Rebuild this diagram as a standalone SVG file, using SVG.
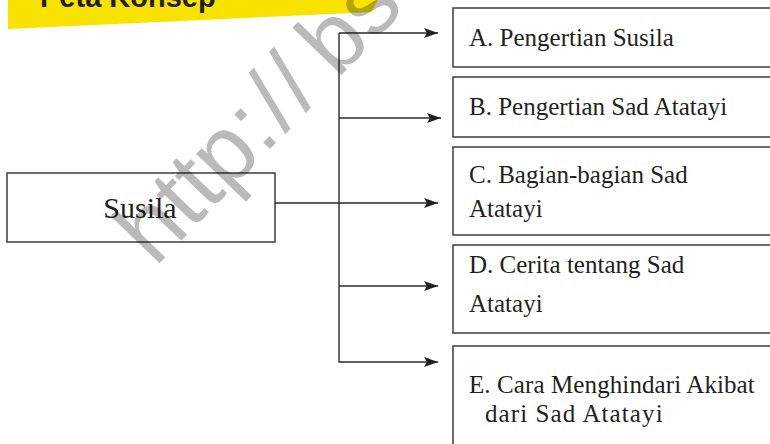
<svg xmlns="http://www.w3.org/2000/svg" width="770" height="444" viewBox="0 0 770 444">
  <defs>
    <style>
      .box { fill: #ffffff; stroke: #3c3c3c; stroke-width: 1.5; }
      .lbl { font-family: "Liberation Serif", "Times New Roman", serif; font-size: 25px; fill: #231f20; }
      .main { font-family: "Liberation Serif", "Times New Roman", serif; font-size: 30px; fill: #231f20; }
      .conn { fill: none; stroke: #2a2a2a; stroke-width: 1.4; }
      .title { font-family: "Liberation Sans", Arial, sans-serif; font-size: 29px; font-weight: bold; fill: #231f20; }
      .wm { font-family: "Liberation Sans", Arial, sans-serif; font-size: 94px; fill: #000000; fill-opacity: 0.27; }
    </style>
    <marker id="arrow" markerWidth="14" markerHeight="10" refX="14" refY="5" orient="auto" markerUnits="userSpaceOnUse">
      <path d="M0,0 L14,5 L0,10 L3,5 Z" fill="#231f20"/>
    </marker>
  </defs>

  <g id="banner">
    <polygon points="8,0 378,0 371,12 8,29" fill="#f7e200"/>
    <text class="title" x="40" y="7">Peta Konsep</text>
  </g>

  <g id="node-susila">
    <rect class="box" x="7" y="173" width="268" height="69"/>
    <text class="main" x="140" y="218" text-anchor="middle">Susila</text>
  </g>

  <g id="node-a">
    <rect class="box" x="453" y="8" width="330" height="59"/>
    <text class="lbl" x="469" y="46">A. Pengertian Susila</text>
  </g>

  <g id="node-b">
    <rect class="box" x="453" y="77" width="330" height="60"/>
    <text class="lbl" x="469" y="115">B. Pengertian Sad Atatayi</text>
  </g>

  <g id="node-c">
    <rect class="box" x="453" y="147" width="330" height="88"/>
    <text class="lbl" x="469" y="183">C. Bagian-bagian Sad</text>
    <text class="lbl" x="469" y="217">Atatayi</text>
  </g>

  <g id="node-d">
    <rect class="box" x="453" y="245" width="330" height="88"/>
    <text class="lbl" x="469" y="273">D. Cerita tentang Sad</text>
    <text class="lbl" x="469" y="312">Atatayi</text>
  </g>

  <g id="node-e">
    <rect class="box" x="453" y="346" width="330" height="110"/>
    <text class="lbl" x="469" y="393" letter-spacing="0.1">E. Cara Menghindari Akibat</text>
    <text class="lbl" x="485" y="422" letter-spacing="1.1">dari Sad Atatayi</text>
  </g>

  <g id="connectors">
    <line class="conn" x1="275" y1="203" x2="438" y2="203" marker-end="url(#arrow)"/>
    <line class="conn" x1="339" y1="33" x2="339" y2="362"/>
    <line class="conn" x1="339" y1="33" x2="438" y2="33" marker-end="url(#arrow)"/>
    <line class="conn" x1="339" y1="118" x2="441" y2="118" marker-end="url(#arrow)"/>
    <line class="conn" x1="339" y1="286" x2="438" y2="286" marker-end="url(#arrow)"/>
    <line class="conn" x1="339" y1="362" x2="438" y2="362" marker-end="url(#arrow)"/>
  </g>

  <g id="watermark">
    <text class="wm" transform="translate(155,268) rotate(-46)">http:<tspan dx="4">/</tspan><tspan dx="3">/</tspan><tspan dx="20">bse</tspan></text>
  </g>
</svg>
